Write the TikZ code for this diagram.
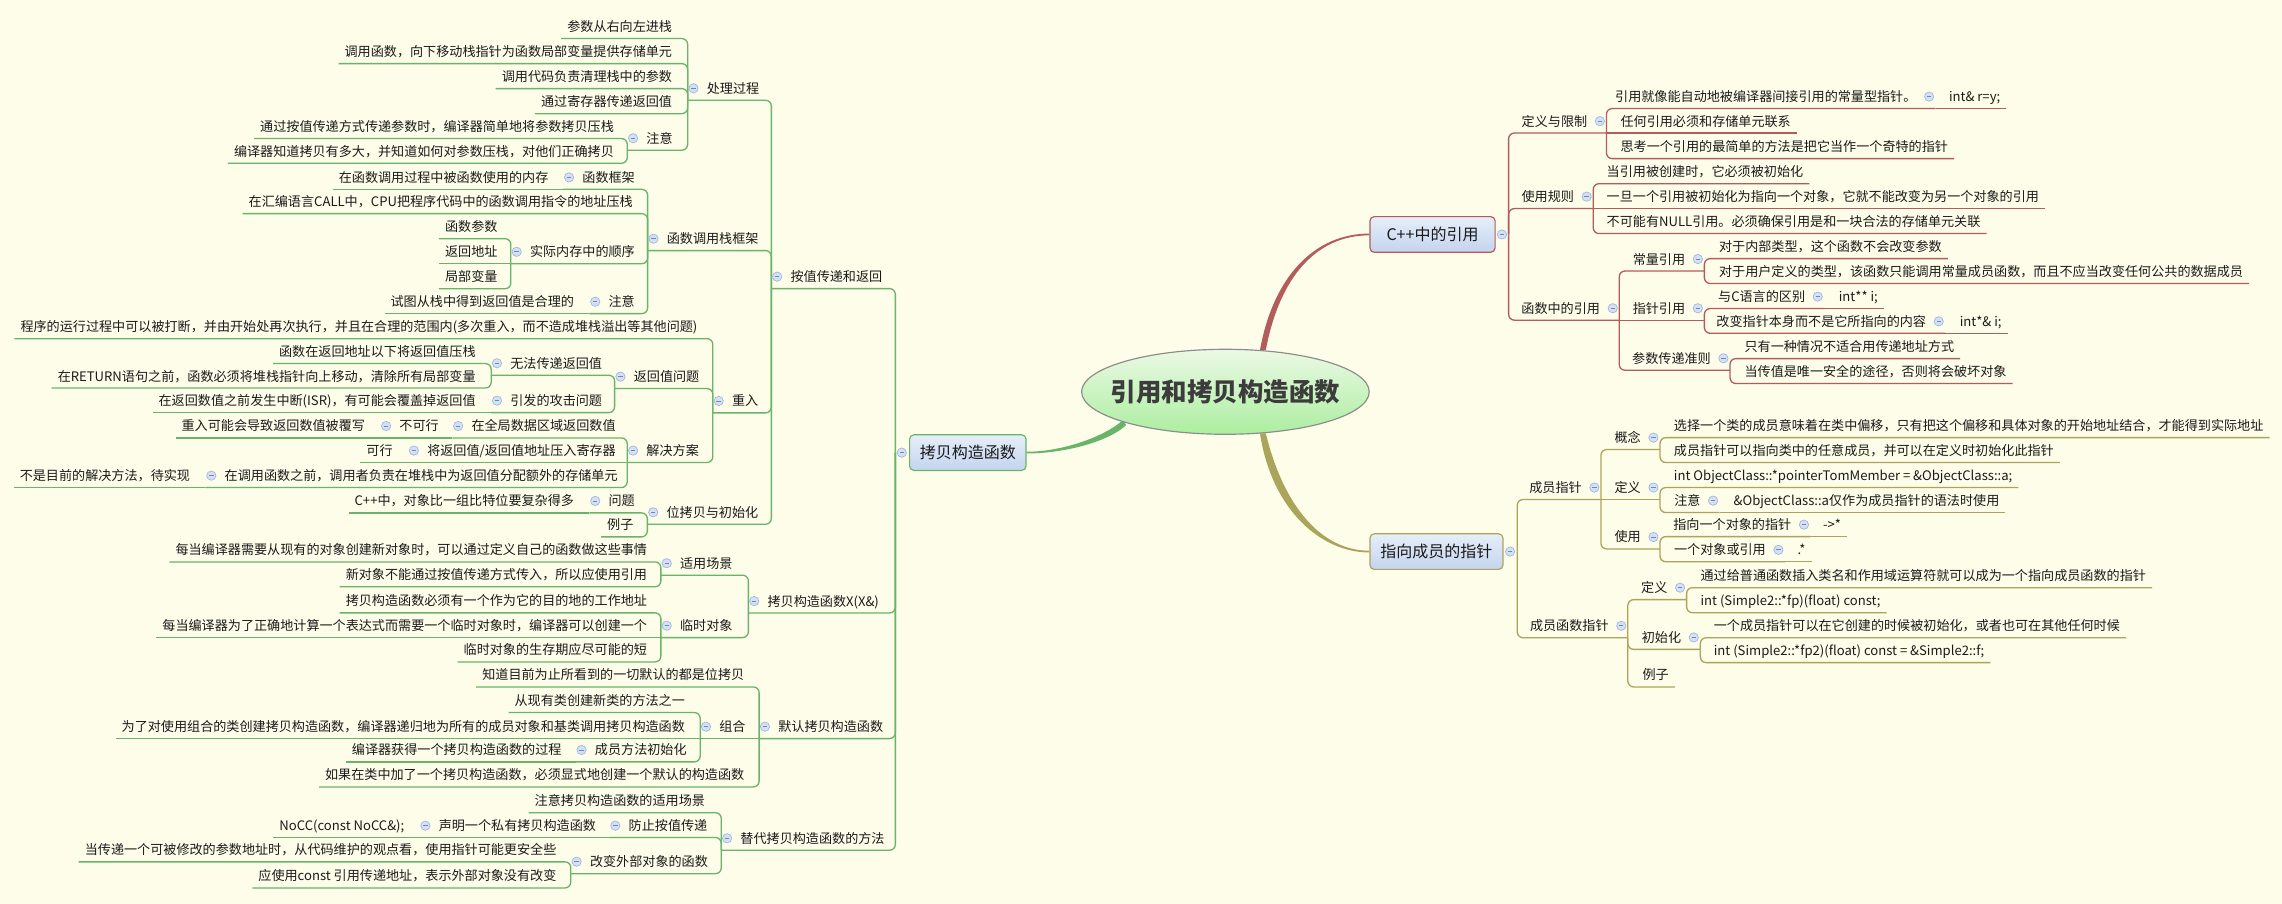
\documentclass[tikz,border=0pt]{standalone}
\usepackage{fontspec}
\setmainfont{Noto Sans CJK SC}
\usetikzlibrary{calc,shapes.geometric,backgrounds}
\definecolor{bg}{HTML}{FDFDE9}
\definecolor{tx}{HTML}{1A1A1A}
\definecolor{grn}{HTML}{68B468}
\definecolor{rdl}{HTML}{B25C5C}
\definecolor{olv}{HTML}{AAA55A}
\definecolor{boxt}{HTML}{E6EEF9}
\definecolor{boxb}{HTML}{C4D4EE}
\definecolor{roott}{HTML}{EBF9E5}
\definecolor{rootb}{HTML}{ACEEA0}
\definecolor{rootd}{HTML}{8C8C8C}
\definecolor{rootx}{HTML}{3C3C3C}
\definecolor{cfill}{HTML}{D4E0F4}
\definecolor{cdraw}{HTML}{9FB5DD}
\definecolor{cminus}{HTML}{7088B8}
\tikzset{
 txt/.style={font=\fontsize{9}{11}\selectfont, text=tx, inner ysep=0pt, minimum height=16pt, text height=8.4pt, text depth=1.6pt},
 ll/.style={txt, anchor=east, inner xsep=4pt},
 ln/.style={txt, anchor=west, inner xsep=0pt, execute at begin node={\hspace*{13pt}}},
 rl/.style={txt, anchor=west, inner xsep=4pt},
 rn/.style={txt, anchor=east, inner xsep=0pt, execute at end node={\hspace*{13pt}}},
 lone/.style={rectangle, rounded corners=3pt, minimum height=24.5pt, inner sep=0pt, font=\fontsize{11}{13}\selectfont, text=tx, top color=boxt, bottom color=boxb, line width=0.8pt},
 rootst/.style={ellipse, minimum width=197.6pt, minimum height=58.4pt, inner sep=0pt, text height=6pt, text depth=0pt, draw=rootd, line width=0.8pt, top color=roott, bottom color=rootb, font=\fontsize{17.5}{20}\selectfont\bfseries, text=rootx},
 cnode/.style={circle, minimum size=6.4pt, inner sep=0pt, fill=cfill, draw=cdraw, line width=0.45pt, path picture={\draw[cminus, line width=0.5pt] ([xshift=-1.5pt]path picture bounding box.center) -- ([xshift=1.5pt]path picture bounding box.center);}},
 cn/.style={line width=0.9pt, draw=grn}
}
\newcommand\LC[2]{\draw[cn,rounded corners=4pt] (#1.south west) -- (#1.south west -| #2) -- (#2);}
\newcommand\LS[2]{\draw[cn] (#1.south west) -- (#2);}
\newcommand\RC[2]{\draw[cn,rounded corners=4pt] (#1.south east) -- (#1.south east -| #2) -- (#2);}
\newcommand\RS[2]{\draw[cn] (#1.south east) -- (#2);}
\begin{document}
\begin{tikzpicture}[x=1pt,y=-1pt]
\useasboundingbox (0,0) rectangle (1568,621);

% central and main topics
\node[rootst] (root) at (842,269.2) {\makebox[0pt]{\raisebox{-3.5pt}{引用和拷贝构造函数}}};
\node[lone, draw=grn, minimum width=80pt] (copy) at (665,311) {拷贝构造函数};
\node[lone, draw=rdl, minimum width=86pt] (cpp) at (984.3,161.1) {C++中的引用};
\node[lone, draw=olv, minimum width=91.4pt] (ptr) at (987,379) {指向成员的指针};
\coordinate (ks) at ($(copy.west)+(-9.4,0)$);
\coordinate (cs) at ($(cpp.east)+(8.9,0)$);
\coordinate (ps) at ($(ptr.east)+(9.4,0)$);

% background and tapered main connectors, under the topics
\begin{pgfonlayer}{background}
\fill[bg] (0,0) rectangle (1568,621);
\fill[rdl] ($(root.48)+(-2,0)$) .. controls (875,189) and (904,160.5) .. ($(cpp.west)+(0,-0.6)$) -- ($(cpp.west)+(0,0.6)$) .. controls (904,161.7) and (879,191) .. ($(root.48)+(2,0)$) -- cycle;
\fill[olv] ($(root.-48)+(-2,0)$) .. controls (874,351) and (908,379.6) .. ($(ptr.west)+(0,0.6)$) -- ($(ptr.west)+(0,-0.6)$) .. controls (908,378.4) and (882,348) .. ($(root.-48)+(2,0)$) -- cycle;
\fill[grn] ($(root.197)+(1.1,1.7)$) .. controls (761,304) and (730,311.6) .. ($(copy.east)+(0,0.6)$) -- ($(copy.east)+(0,-0.6)$) .. controls (730,310.4) and (759,300) .. ($(root.197)+(-1.1,-1.7)$) -- cycle;
\end{pgfonlayer}

% ---------------- left branch: leaves
\node[ll] (l1) at (466,18.3) {参数从右向左进栈};
\node[ll] (l2) at (466,35.5) {调用函数，向下移动栈指针为函数局部变量提供存储单元};
\node[ll] (l3) at (466,52.7) {调用代码负责清理栈中的参数};
\node[ll] (l4) at (466,69.9) {通过寄存器传递返回值};
\node[ll] (l5) at (426,87) {通过按值传递方式传递参数时，编译器简单地将参数拷贝压栈};
\node[ll] (l6) at (426,104) {编译器知道拷贝有多大，并知道如何对参数压栈，对他们正确拷贝};
\node[ll] (l7) at (381,121.9) {在函数调用过程中被函数使用的内存};
\node[ll] (l8) at (439,138.6) {在汇编语言CALL中，CPU把程序代码中的函数调用指令的地址压栈};
\node[ll] (l9) at (346,155.8) {函数参数};
\node[ll] (l10) at (346,173) {返回地址};
\node[ll] (l11) at (346,190.2) {局部变量};
\node[ll] (l12) at (398.6,207.3) {试图从栈中得到返回值是合理的};
\node[ll] (l13) at (483.4,224.5) {程序的运行过程中可以被打断，并由开始处再次执行，并且在合理的范围内(多次重入，而不造成堆栈溢出等其他问题)};
\node[ll] (l14) at (331,241.6) {函数在返回地址以下将返回值压栈};
\node[ll] (l15) at (331,258.4) {在RETURN语句之前，函数必须将堆栈指针向上移动，清除所有局部变量};
\node[ll] (l16) at (331,275.3) {在返回数值之前发生中断(ISR)，有可能会覆盖掉返回值};
\node[ll] (l17) at (255,292.7) {重入可能会导致返回数值被覆写};
\node[ll] (l18) at (274,309.6) {可行};
\node[ll] (l19) at (134.8,326.8) {不是目前的解决方法，待实现};
\node[ll] (l20) at (398.6,344.2) {C++中，对象比一组比特位要复杂得多};
\node[ll] (l21) at (439.4,360.7) {例子};
\node[ll] (l22) at (448.8,377.9) {每当编译器需要从现有的对象创建新对象时，可以通过定义自己的函数做这些事情};
\node[ll] (l23) at (448.8,395) {新对象不能通过按值传递方式传入，所以应使用引用};
\node[ll] (l24) at (448.8,412.9) {拷贝构造函数必须有一个作为它的目的地的工作地址};
\node[ll] (l25) at (448.8,429.9) {每当编译器为了正确地计算一个表达式而需要一个临时对象时，编译器可以创建一个};
\node[ll] (l26) at (448.8,446.6) {临时对象的生存期应尽可能的短};
\node[ll] (l27) at (515.6,463.8) {知道目前为止所看到的一切默认的都是位拷贝};
\node[ll] (l28) at (474.8,481.4) {从现有类创建新类的方法之一};
\node[ll] (l29) at (474.8,499.3) {为了对使用组合的类创建拷贝构造函数，编译器递归地为所有的成员对象和基类调用拷贝构造函数};
\node[ll] (l30) at (390,515.3) {编译器获得一个拷贝构造函数的过程};
\node[ll] (l31) at (515.6,532.5) {如果在类中加了一个拷贝构造函数，必须显式地创建一个默认的构造函数};
\node[ll] (l32) at (488.6,550.2) {注意拷贝构造函数的适用场景};
\node[ll] (l33) at (282,567.3) {NoCC(const NoCC\&);};
\node[ll] (l34) at (386.5,584) {当传递一个可被修改的参数地址时，从代码维护的观点看，使用指针可能更安全些};
\node[ll] (l35) at (386.5,601.9) {应使用const 引用传递地址，表示外部对象没有改变};

% left branch: inner topics
\node[ln] (bz) at (530,190.1) {按值传递和返回};
\node[ln] (xx) at (514.2,413) {拷贝构造函数X(X\&)};
\node[ln] (mr) at (521.6,499.3) {默认拷贝构造函数};
\node[ln] (td) at (495.6,576) {替代拷贝构造函数的方法};
\node[ln] (cl) at (472.5,60.7) {处理过程};
\node[ln] (cz) at (431,95) {注意};
\node[ln] (zj) at (445,164) {函数调用栈框架};
\node[ln] (kj) at (387,121.9) {函数框架};
\node[ln] (sj) at (351,173) {实际内存中的顺序};
\node[ln] (zy2) at (405,207.3) {注意};
\node[ln] (cr) at (489.8,275.5) {重入};
\node[ln] (fh) at (422.3,258.8) {返回值问题};
\node[ln] (wf) at (337.5,249.6) {无法传递返回值};
\node[ln] (yf) at (337.5,275.3) {引发的攻击问题};
\node[ln] (jj) at (431,309.6) {解决方案};
\node[ln] (qj) at (310.8,292.7) {在全局数据区域返回数值};
\node[ln] (bk) at (261.3,292.7) {不可行};
\node[ln] (jf) at (280.4,309.6) {将返回值/返回值地址压入寄存器};
\node[ln] (dy) at (141.2,326.8) {在调用函数之前，调用者负责在堆栈中为返回值分配额外的存储单元};
\node[ln] (wk) at (444.8,352) {位拷贝与初始化};
\node[ln] (wt) at (405,344.2) {问题};
\node[ln] (sy) at (454.1,387) {适用场景};
\node[ln] (ls) at (454.1,429.9) {临时对象};
\node[ln] (zh) at (481.1,499.3) {组合};
\node[ln] (cy) at (395.6,515.3) {成员方法初始化};
\node[ln] (fz) at (418.8,567.3) {防止按值传递};
\node[ln] (sm) at (288.3,567.3) {声明一个私有拷贝构造函数};
\node[ln] (gb) at (392.2,592.1) {改变外部对象的函数};

% left connectors
\LC{bz}{ks} \LC{xx}{ks} \LC{mr}{ks} \LC{td}{ks}
\LC{cl}{bz.south west} \LC{zj}{bz.south west} \LC{cr}{bz.south west} \LC{wk}{bz.south west}
\LC{l1}{cl.south west} \LC{l2}{cl.south west} \LC{l3}{cl.south west} \LC{l4}{cl.south west} \LC{cz}{cl.south west}
\LC{l5}{cz.south west} \LC{l6}{cz.south west}
\LC{kj}{zj.south west} \LC{l8}{zj.south west} \LC{sj}{zj.south west} \LC{zy2}{zj.south west}
\LS{l7}{kj.south west}
\LC{l9}{sj.south west} \LS{l10}{sj.south west} \LC{l11}{sj.south west}
\LS{l12}{zy2.south west}
\LC{l13}{cr.south west} \LC{fh}{cr.south west} \LC{jj}{cr.south west}
\LC{wf}{fh.south west} \LC{yf}{fh.south west}
\LC{l14}{wf.south west} \LC{l15}{wf.south west}
\LS{l16}{yf.south west}
\LC{qj}{jj.south west} \LS{jf}{jj.south west} \LC{dy}{jj.south west}
\LS{bk}{qj.south west} \LS{l17}{bk.south west} \LS{l18}{jf.south west} \LS{l19}{dy.south west}
\LC{wt}{wk.south west} \LC{l21}{wk.south west} \LS{l20}{wt.south west}
\LC{sy}{xx.south west} \LC{ls}{xx.south west}
\LC{l22}{sy.south west} \LC{l23}{sy.south west}
\LC{l24}{ls.south west} \LS{l25}{ls.south west} \LC{l26}{ls.south west}
\LC{l27}{mr.south west} \LS{zh}{mr.south west} \LC{l31}{mr.south west}
\LC{l28}{zh.south west} \LS{l29}{zh.south west} \LC{cy}{zh.south west}
\LS{l30}{cy.south west}
\LC{l32}{td.south west} \LC{fz}{td.south west} \LC{gb}{td.south west}
\LS{sm}{fz.south west} \LS{l33}{sm.south west}
\LC{l34}{gb.south west} \LC{l35}{gb.south west}

% ---------------- right branch: leaves
\node[rl] (r1a) at (1335,66.4) {int\& r=y;};
\node[rl] (r2) at (1109.3,83.2) {任何引用必须和存储单元联系};
\node[rl] (r3) at (1109.3,100.8) {思考一个引用的最简单的方法是把它当作一个奇特的指针};
\node[rl] (r4) at (1099.8,118) {当引用被创建时，它必须被初始化};
\node[rl] (r5) at (1099.8,135.1) {一旦一个引用被初始化为指向一个对象，它就不能改变为另一个对象的引用};
\node[rl] (r6) at (1099.8,152.3) {不可能有NULL引用。必须确保引用是和一块合法的存储单元关联};
\node[rl] (r7) at (1177,169.5) {对于内部类型，这个函数不会改变参数};
\node[rl] (r8) at (1177,186.6) {对于用户定义的类型，该函数只能调用常量成员函数，而且不应当改变任何公共的数据成员};
\node[rl] (r9) at (1259.3,203.8) {int** i;};
\node[rl] (r10) at (1342.4,220.8) {int*\& i;};
\node[rl] (r11) at (1194.5,238.2) {只有一种情况不适合用传递地址方式};
\node[rl] (r12) at (1194.5,255.3) {当传值是唯一安全的途径，否则将会破坏对象};
\node[rl] (r13) at (1146,292.5) {选择一个类的成员意味着在类中偏移，只有把这个偏移和具体对象的开始地址结合，才能得到实际地址};
\node[rl] (r14) at (1146,309.6) {成员指针可以指向类中的任意成员，并可以在定义时初始化此指针};
\node[rl] (r15) at (1146,326.8) {int ObjectClass::*pointerTomMember = \&ObjectClass::a;};
\node[rl] (r16) at (1187,344) {\&ObjectClass::a仅作为成员指针的语法时使用};
\node[rl] (r17) at (1248.4,360.5) {->*};
\node[rl] (r18) at (1231,377.8) {.*};
\node[rl] (r19) at (1164.3,395.6) {通过给普通函数插入类名和作用域运算符就可以成为一个指向成员函数的指针};
\node[rl] (r20) at (1164.3,412.8) {int (Simple2::*fp)(float) const;};
\node[rl] (r21) at (1173.4,430) {一个成员指针可以在它创建的时候被初始化，或者也可在其他任何时候};
\node[rl] (r22) at (1173.4,447.1) {int (Simple2::*fp2)(float) const = \&Simple2::f;};
\node[rl] (r23) at (1124.4,463.8) {例子};

% right branch: inner topics
\node[rn] (dy2) at (1103.8,83.2) {定义与限制};
\node[rn] (r1) at (1330,66.4) {引用就像能自动地被编译器间接引用的常量型指针。};
\node[rn] (sy2) at (1094.7,135.1) {使用规则};
\node[rn] (hs) at (1112.6,211.8) {函数中的引用};
\node[rn] (cl2) at (1171.1,178) {常量引用};
\node[rn] (zz) at (1171.1,211.8) {指针引用};
\node[rn] (qb) at (1253.5,203.8) {与C语言的区别};
\node[rn] (gz) at (1336.6,220.8) {改变指针本身而不是它所指向的内容};
\node[rn] (cs2) at (1188.7,246.2) {参数传递准则};
\node[rn] (cz2) at (1100,335) {成员指针};
\node[rn] (gn) at (1140.6,300.7) {概念};
\node[rn] (dyx) at (1140.6,335) {定义};
\node[rn] (zy3) at (1181.6,344) {注意};
\node[rn] (sy3) at (1140.6,369) {使用};
\node[rn] (zx) at (1244,360.5) {指向一个对象的指针};
\node[rn] (dx) at (1226.5,377.8) {一个对象或引用};
\node[rn] (cf) at (1118.5,430) {成员函数指针};
\node[rn] (dy4) at (1158.9,403.8) {定义};
\node[rn] (csh) at (1168.3,438) {初始化};

% right connectors (red)
\tikzset{cn/.style={line width=0.9pt, draw=rdl}}
\RC{dy2}{cs} \RC{sy2}{cs} \RC{hs}{cs}
\RC{r1}{dy2.south east} \RS{r2}{dy2.south east} \RC{r3}{dy2.south east}
\RS{r1a}{r1.south east}
\RC{r4}{sy2.south east} \RS{r5}{sy2.south east} \RC{r6}{sy2.south east}
\RC{cl2}{hs.south east} \RS{zz}{hs.south east} \RC{cs2}{hs.south east}
\RC{r7}{cl2.south east} \RC{r8}{cl2.south east}
\RC{qb}{zz.south east} \RC{gz}{zz.south east}
\RS{r9}{qb.south east} \RS{r10}{gz.south east}
\RC{r11}{cs2.south east} \RC{r12}{cs2.south east}
% right connectors (olive)
\tikzset{cn/.style={line width=0.9pt, draw=olv}}
\RC{cz2}{ps} \RC{cf}{ps}
\RC{gn}{cz2.south east} \RS{dyx}{cz2.south east} \RC{sy3}{cz2.south east}
\RC{r13}{gn.south east} \RC{r14}{gn.south east}
\RC{r15}{dyx.south east} \RC{zy3}{dyx.south east}
\RS{r16}{zy3.south east}
\RC{zx}{sy3.south east} \RC{dx}{sy3.south east}
\RS{r17}{zx.south east} \RS{r18}{dx.south east}
\RC{dy4}{cf.south east} \RC{csh}{cf.south east} \RC{r23}{cf.south east}
\RC{r19}{dy4.south east} \RC{r20}{dy4.south east}
\RC{r21}{csh.south east} \RC{r22}{csh.south east}

% collapse markers
\foreach \n in {bz,xx,mr,td,cl,cz,zj,kj,sj,zy2,cr,fh,wf,yf,jj,qj,bk,jf,dy,wk,wt,sy,ls,zh,cy,fz,sm,gb}
  {\node[cnode] (c\n) at ($(\n.west)+(4,0)$) {};}
\foreach \n in {dy2,r1,sy2,hs,cl2,zz,qb,gz,cs2,cz2,gn,dyx,zy3,sy3,zx,dx,cf,dy4,csh}
  {\node[cnode] (c\n) at ($(\n.east)+(-4.5,0)$) {};}
\node[cnode] (ccopy) at ($(copy.west)+(-5,0)$) {};
\node[cnode] (ccpp) at ($(cpp.east)+(4.3,0)$) {};
\node[cnode] (cptr) at ($(ptr.east)+(4.5,0)$) {};
\end{tikzpicture}
\end{document}
